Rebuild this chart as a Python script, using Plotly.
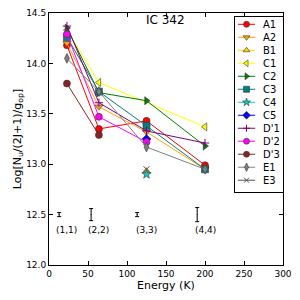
import plotly.graph_objects as go

energy = [23, 64, 125, 200]

series_names = ["A1", "A2", "B1", "C1", "C2", "C3", "C4", "C5", "D'1", "D'2", "D'3", "E1", "E3"]
series_x = {
    "A1": [23, 64, 125, 200],
    "A2": [23, 64, 125, 200],
    "B1": [125],
    "C1": [23, 64, 200],
    "C2": [23, 64, 125, 200],
    "C3": [23, 64, 125, 200],
    "C4": [125],
    "C5": [125],
    "D'1": [23, 64, 125, 200],
    "D'2": [23, 64, 125],
    "D'3": [23, 64],
    "E1": [23, 64, 125, 200],
    "E3": [125],
}
series_y = {
    "A1": [14.18, 13.35, 13.43, 12.99],
    "A2": [14.20, 13.57, 13.32, 12.95],
    "B1": [12.93],
    "C1": [14.33, 13.81, 13.37],
    "C2": [14.35, 13.71, 13.63, 13.18],
    "C3": [14.26, 13.72, 13.38, 12.95],
    "C4": [12.90],
    "C5": [13.25],
    "D'1": [14.37, 13.61, 13.33, 13.21],
    "D'2": [14.29, 13.47, 13.22],
    "D'3": [13.80, 13.29],
    "E1": [14.05, 13.72, 13.17, 12.95],
    "E3": [12.95],
}
colors = {
    "A1": "#FF0000", "A2": "#FFA500", "B1": "#FFD700", "C1": "#FFFF00",
    "C2": "#007F00", "C3": "#008080", "C4": "#00CED1", "C5": "#0000FF",
    "D'1": "#800080", "D'2": "#FF00FF", "D'3": "#8B2323", "E1": "#808080",
    "E3": "#555555",
}
symbols = {
    "A1": "circle", "A2": "triangle-down", "B1": "triangle-up", "C1": "triangle-left",
    "C2": "triangle-right", "C3": "square", "C4": "star", "C5": "diamond",
    "D'1": "cross-thin-open", "D'2": "circle", "D'3": "circle", "E1": "diamond-tall",
    "E3": "x-thin-open",
}

err_x = [13, 54, 113, 190]
err_y = [12.5, 12.5, 12.5, 12.5]
err_size = [0.02, 0.06, 0.02, 0.07]
trans_labels = ["(1,1)", "(2,2)", "(3,3)", "(4,4)"]
label_y = 12.35


def marker_style(n, size=7):
    open_sym = symbols[n].endswith("open")
    return dict(symbol=symbols[n], size=size if not open_sym else size - 1, color=colors[n],
                line=dict(width=0.6 if not open_sym else 1,
                          color="#333333" if not open_sym else colors[n]))


fig = go.Figure()
for n in series_names:
    fig.add_trace(go.Scatter(
        x=series_x[n], y=series_y[n], name=n, mode="lines+markers", showlegend=False,
        line=dict(color=colors[n], width=1), marker=marker_style(n),
    ))

fig.add_trace(go.Scatter(
    x=err_x, y=err_y, mode="markers", showlegend=False,
    marker=dict(size=1, color="black"),
    error_y=dict(type="data", array=err_size, color="black", thickness=1, width=2),
))
for xv, t in zip(energy, trans_labels):
    fig.add_annotation(x=xv, y=label_y, text=t, showarrow=False,
                       font=dict(size=9, color="black"))
fig.add_annotation(x=149, y=14.43, text="IC 342", showarrow=False,
                   font=dict(size=12, color="black"))

# legend box drawn on an overlay axis pair
for i, n in enumerate(series_names):
    fig.add_trace(go.Scatter(x=[0.06, 0.42], y=[i, i], mode="lines", showlegend=False,
                             line=dict(color=colors[n], width=1), xaxis="x2", yaxis="y2",
                             hoverinfo="skip"))
    fig.add_trace(go.Scatter(x=[0.24], y=[i], mode="markers", showlegend=False,
                             marker=marker_style(n, 6), xaxis="x2", yaxis="y2",
                             hoverinfo="skip"))
    fig.add_annotation(x=0.54, y=i, xref="x2", yref="y2", text=n, showarrow=False,
                       xanchor="left", font=dict(size=10, color="black"))

axis_common = dict(showline=True, linecolor="black", linewidth=1, mirror="ticks",
                   ticks="inside", ticklen=4, tickcolor="black", showgrid=False,
                   zeroline=False, tickfont=dict(size=9, color="black"), automargin=False)
fig.update_xaxes(range=[0, 300], dtick=50,
                 title=dict(text="Energy (K)", font=dict(size=11, color="black"), standoff=2),
                 **axis_common)
fig.update_yaxes(range=[12.0, 14.5], dtick=0.5, tickformat=".1f",
                 title=dict(text="Log[N<sub>u</sub>/(2J+1)/g<sub>op</sub>]",
                            font=dict(size=11, color="black"), standoff=2),
                 **axis_common)
fig.update_layout(
    width=300, height=300, margin=dict(l=41, r=25, t=5, b=43),
    paper_bgcolor="white", plot_bgcolor="white",
    font=dict(family="DejaVu Sans", color="black"),
    xaxis2=dict(domain=[0.795, 1.0], range=[0, 1], anchor="y2", showline=True,
                linecolor="black", linewidth=1, mirror=True, showticklabels=False,
                ticks="", showgrid=False, zeroline=False, fixedrange=True, automargin=False),
    yaxis2=dict(domain=[0.29, 0.984], range=[12.9, -0.56], anchor="x2", showline=True,
                linecolor="black", linewidth=1, mirror=True, showticklabels=False,
                ticks="", showgrid=False, zeroline=False, fixedrange=True, automargin=False),
)
fig.write_html("out.html")
